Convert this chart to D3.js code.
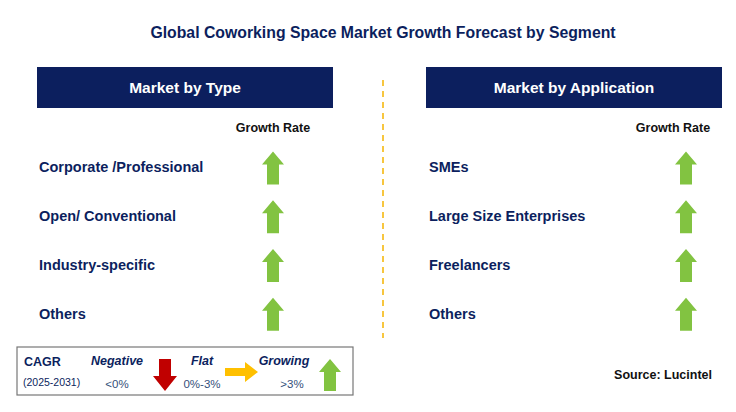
<!DOCTYPE html>
<html><head><meta charset="utf-8">
<script src="https://cdn.jsdelivr.net/npm/d3@7"></script>
<style>body{margin:0;background:#fff}text{font-family:Arial,"Liberation Sans",sans-serif}</style>
</head><body><svg id="c" width="736" height="412"></svg>
<script>
const title = "Global Coworking Space Market Growth Forecast by Segment";
const typeCategories = ["Corporate /Professional","Open/ Conventional","Industry-specific","Others"];
const typeTrend = ["up","up","up","up"];
const appCategories = ["SMEs","Large Size Enterprises","Freelancers","Others"];
const appTrend = ["up","up","up","up"];
const panels = [
  {head:"Market by Type", cats:typeCategories, trend:typeTrend, x0:37, w:296, arrowX:273, grX:273, labX:39},
  {head:"Market by Application", cats:appCategories, trend:appTrend, x0:426, w:296, arrowX:686, grX:673, labX:429}
];
const navy="#0c1f5e", green="#82c341", red="#c00000", yellow="#ffc000";
const svg=d3.select("#c");
svg.append("text").attr("x",383).attr("y",38).attr("text-anchor","middle").attr("font-size",15.8).attr("font-weight","bold").attr("fill",navy).text(title);
svg.append("line").attr("x1",383).attr("x2",383).attr("y1",80).attr("y2",338).attr("stroke","#f5b400").attr("stroke-width",1.5).attr("stroke-dasharray","6,5");
const y=d3.scaleBand().domain([0,1,2,3]).range([143,338]);
function arrowUp(g,cx,top,bot,col){
  const hw=11, sw=6, hh=13;
  g.append("path").attr("d",`M${cx},${top}L${cx+hw},${top+hh}L${cx+sw},${top+hh}L${cx+sw},${bot}L${cx-sw},${bot}L${cx-sw},${top+hh}L${cx-hw},${top+hh}Z`).attr("fill",col);
}
panels.forEach(p=>{
  svg.append("rect").attr("x",p.x0).attr("y",67).attr("width",p.w).attr("height",41).attr("fill",navy);
  svg.append("text").attr("x",p.x0+p.w/2).attr("y",93).attr("text-anchor","middle").attr("fill","#fff").attr("font-size",15.5).attr("font-weight","bold").text(p.head);
  svg.append("text").attr("x",p.grX).attr("y",132).attr("text-anchor","middle").attr("font-size",12.5).attr("font-weight","bold").attr("fill","#111").text("Growth Rate");
  p.cats.forEach((c,i)=>{
    const cy=y(i)+y.bandwidth()/2;
    svg.append("text").attr("x",p.labX).attr("y",cy+5).attr("font-size",14.5).attr("font-weight","bold").attr("fill",navy).text(c);
    arrowUp(svg,p.arrowX,cy-16,cy+17,green);
  });
});
// legend
const lg=svg.append("g");
lg.append("rect").attr("x",17).attr("y",347).attr("width",336).attr("height",48).attr("fill","#fff").attr("stroke","#777").attr("stroke-width",1.2);
lg.append("text").attr("x",24).attr("y",366).attr("font-size",12.5).attr("font-weight","bold").attr("fill",navy).text("CAGR");
lg.append("text").attr("x",23).attr("y",386).attr("font-size",10.5).attr("fill",navy).text("(2025-2031)");
[["Negative",117,"<0%",117],["Flat",202,"0%-3%",202],["Growing",284,">3%",292]].forEach(d=>{
  lg.append("text").attr("x",d[1]).attr("y",365).attr("text-anchor","middle").attr("font-size",12.5).attr("font-weight","bold").attr("font-style","italic").attr("fill",navy).text(d[0]);
  lg.append("text").attr("x",d[3]).attr("y",388).attr("text-anchor","middle").attr("font-size",11.5).attr("fill","#34507a").text(d[2]);
});
lg.append("path").attr("d","M159,359L159,376L153,376L165,391L177,376L171,376L171,359Z").attr("fill",red);
lg.append("path").attr("d","M225,368L245,368L245,362L258,372L245,382L245,376L225,376Z").attr("fill",yellow);
arrowUp(lg,330,359,391,green);
svg.append("text").attr("x",712).attr("y",379).attr("text-anchor","end").attr("font-size",12.5).attr("font-weight","bold").attr("fill","#111").text("Source: Lucintel");
</script></body></html>
